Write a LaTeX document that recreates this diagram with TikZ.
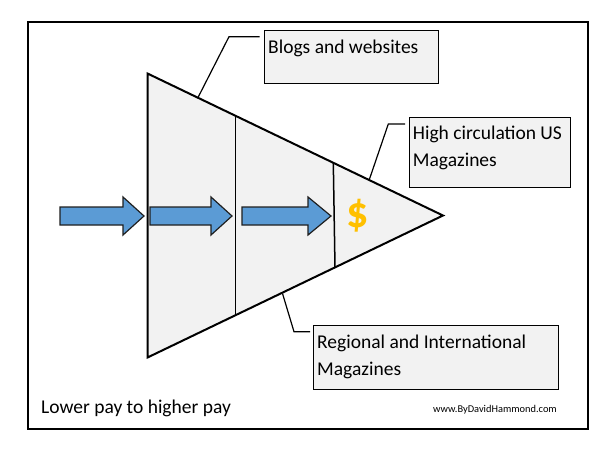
\documentclass[tikz,border=0pt]{standalone}
\usepackage{fontspec}
\setmainfont{Carlito}
\definecolor{boxgray}{HTML}{F2F2F2}
\definecolor{arrowblue}{HTML}{5B9BD5}
\definecolor{arrowedge}{HTML}{1F1F1F}
\definecolor{dollar}{HTML}{FFC000}
\begin{document}
\begin{tikzpicture}[x=1pt,y=-1pt,
  box/.style={draw=black, fill=boxgray, line width=1.3pt, inner sep=0pt, anchor=north west},
  lbl/.style={anchor=base west, inner sep=0pt, font=\fontsize{19.5}{27.5}\selectfont},
  leader/.style={line width=1.2pt, line join=miter},
  arr/.style={draw=arrowedge, fill=arrowblue, line width=1.2pt, line join=miter},
  divider/.style={line width=1.5pt}
]
\useasboundingbox (0,0) rectangle (600,464);
\fill[white] (0,0) rectangle (600,464);
% frame
\node[draw, line width=2.2pt, minimum width=560pt, minimum height=407pt, anchor=north west, inner sep=0pt] (frame) at (27,21) {};
% triangle
\coordinate (tl) at (147.5,73.5);
\coordinate (bl) at (147.5,357.5);
\coordinate (ap) at (443,215.5);
\draw[fill=boxgray, line width=2pt, line join=miter] (tl) -- (ap) -- (bl) -- cycle;
% dividers
\coordinate (d1t) at (235.5,115.8);
\coordinate (d1b) at (235.5,315.2);
\coordinate (d2t) at (333.3,162.8);
\coordinate (d2b) at (335,267.4);
\draw[divider] (d1t) -- (d1b);
\draw[divider] (d2t) -- (d2b);
% arrows
\draw[arr] (60,207) -- (123,207) -- (123,197) -- (144,216) -- (123,235) -- (123,225) -- (60,225) -- cycle;
\draw[arr] (150,207) -- (211,207) -- (211,197) -- (232,216) -- (211,235) -- (211,225) -- (150,225) -- cycle;
\draw[arr] (242,207) -- (308,207) -- (308,197) -- (331,216) -- (308,235) -- (308,225) -- (242,225) -- cycle;
% dollar
\node[font=\bfseries\fontsize{44}{44}\selectfont, text=dollar, inner sep=0pt] (usd) at (357.5,216) {\$};
% boxes
\node[box, minimum width=174pt, minimum height=53pt] (b1) at (264,30) {};
\node[lbl] (t1) at (268,53.3) {Blogs and websites};
\node[box, minimum width=161pt, minimum height=70pt] (b2) at (409,117) {};
\node[lbl] (t2a) at (412.7,139) {High circulation US};
\node[lbl] (t2b) at (412.7,166.7) {Magazines};
\node[box, minimum width=245pt, minimum height=64pt] (b3) at (313,325) {};
\node[lbl] (t3a) at (317,348) {Regional and International};
\node[lbl] (t3b) at (317,375.7) {Magazines};
% leaders
\coordinate (e1) at (198,97.5);
\coordinate (k1) at (229,36.7);
\coordinate (f1) at (259.5,36.7);
\draw[leader] (e1) -- (k1) -- (f1);
\coordinate (e2) at (369.3,179.6);
\coordinate (k2) at (388.3,124);
\coordinate (f2) at (405,124);
\draw[leader] (e2) -- (k2) -- (f2);
\coordinate (e3) at (282.5,293.5);
\coordinate (k3) at (294,331.7);
\coordinate (f3) at (310,331.7);
\draw[leader] (e3) -- (k3) -- (f3);
% bottom texts
\node[lbl] (caption) at (41,413) {Lower pay to higher pay};
\node[anchor=base east, inner sep=0pt, font=\fontsize{10.4}{12}\selectfont] (web) at (557,412) {www.ByDavidHammond.com};
\end{tikzpicture}
\end{document}
